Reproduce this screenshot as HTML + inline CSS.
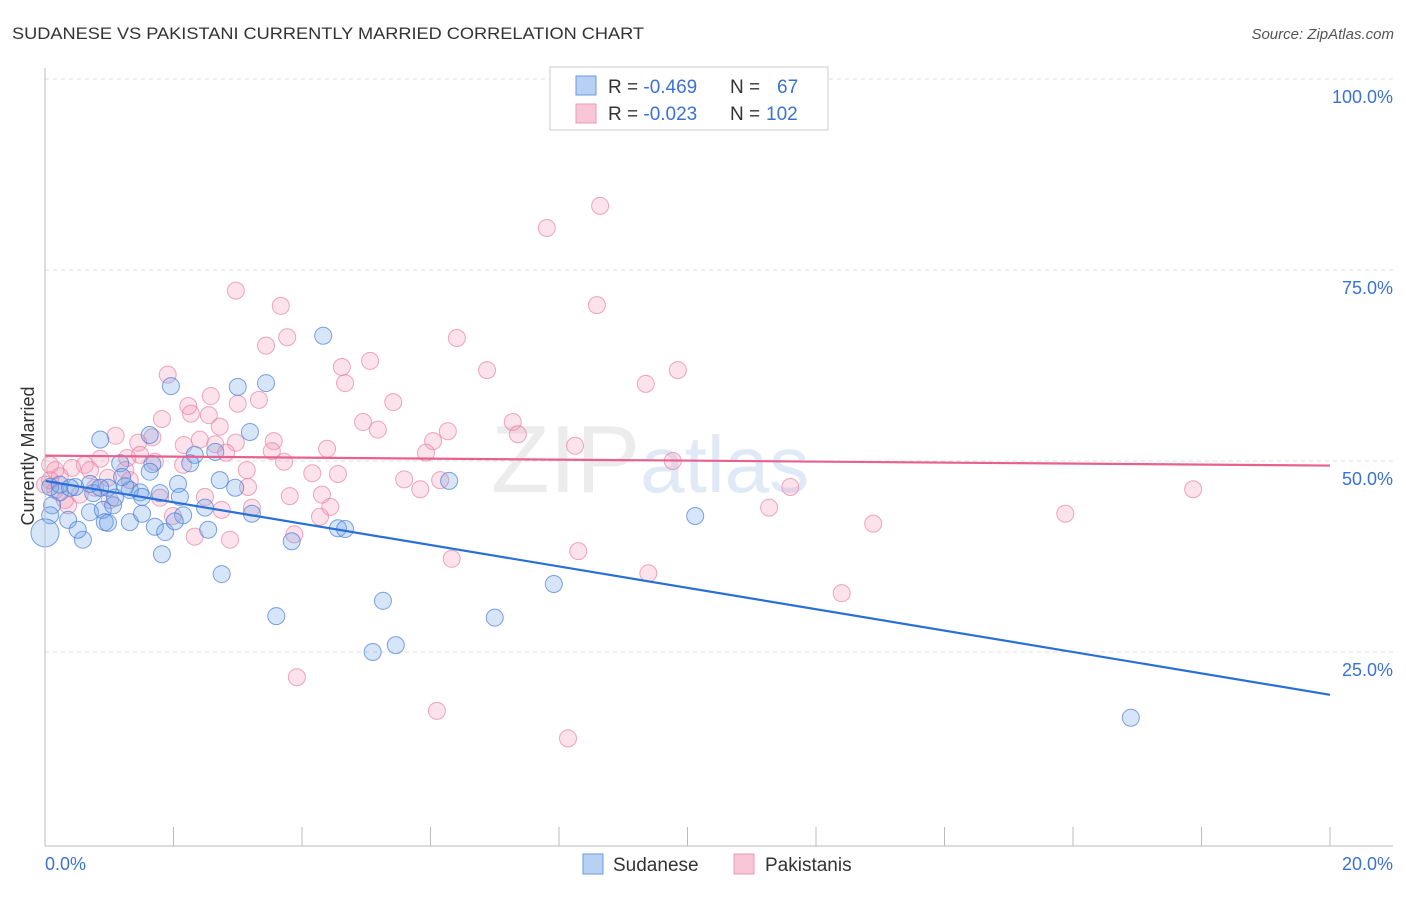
<!DOCTYPE html>
<html><head><meta charset="utf-8"><style>
body{margin:0;background:#fff;font-family:"Liberation Sans",sans-serif}
svg text{font-family:"Liberation Sans",sans-serif}
</style></head><body>
<svg id="c" width="1406" height="892">
<text x="12" y="39" font-size="17" fill="#333" textLength="632" lengthAdjust="spacingAndGlyphs">SUDANESE VS PAKISTANI CURRENTLY MARRIED CORRELATION CHART</text>
<text x="1394" y="39" font-size="15" fill="#555" text-anchor="end" font-style="italic">Source: ZipAtlas.com</text>
<text x="650" y="492" font-size="96" fill="#ececec" text-anchor="middle" font-family="Liberation Serif">ZIP<tspan fill="#e0eaf7" font-family="Liberation Sans" font-size="80">atlas</tspan></text>
<text x="34" y="456" font-size="18" fill="#333" text-anchor="middle" transform="rotate(-90 34 456)">Currently Married</text>
<g id="grid"></g><g id="pts"></g><g id="lines"></g>
<line x1="45" y1="68" x2="45" y2="846" stroke="#bbb"/>
<line x1="45" y1="846" x2="1393" y2="846" stroke="#bbb"/>
<text x="45" y="870" font-size="18" fill="#3a72d4">0.0%</text>
<text x="1393" y="870" font-size="18" fill="#3a72d4" text-anchor="end">20.0%</text>
<g>
<rect x="550" y="67" width="278" height="63" fill="#fff" stroke="#ccc"/>
<rect x="576" y="76" width="20" height="19" fill="#b8d0f2" stroke="#6a9ae0"/>
<rect x="576" y="104" width="20" height="19" fill="#f8c6d6" stroke="#ea9ab6"/>
<text x="608" y="93" font-size="19" fill="#333">R = <tspan fill="#3a72d4">-0.469</tspan><tspan x="730">N = </tspan><tspan x="777" fill="#3a72d4">67</tspan></text>
<text x="608" y="120" font-size="19" fill="#333">R = <tspan fill="#3a72d4">-0.023</tspan><tspan x="730">N = </tspan><tspan x="766" fill="#3a72d4">102</tspan></text>
</g>
<g><rect x="583" y="854" width="20" height="20" fill="#b8d0f2" stroke="#6a9ae0"/><text x="613" y="871" font-size="19" fill="#333">Sudanese</text></g>
<g><rect x="734" y="854" width="20" height="20" fill="#f8c6d6" stroke="#ea9ab6"/><text x="765" y="871" font-size="19" fill="#333">Pakistanis</text></g>
</svg>
<script>
const yTicks=[100,75,50,25];
const yTickLabels=["100.0%","75.0%","50.0%","25.0%"];
const xTicks=[0,2,4,6,8,10,12,14,16,18,20];
const sudX=[0.86,1.63,1.96,3.00,3.44,4.33,3.19,2.33,2.65,1.17,1.67,2.07,2.72,2.96,2.10,2.49,2.15,1.79,1.48,1.32,1.20,0.98,0.75,0.47,0.23,0.08,0.11,0.08,0.36,0.70,0.90,1.06,0.93,1.32,1.51,1.71,1.87,2.02,2.54,3.22,3.84,4.56,4.67,6.29,0.59,0.51,0.98,1.82,2.75,3.60,5.26,5.10,5.46,7.00,7.92,10.12,16.90,0.0,0.23,0.39,0.70,1.09,1.63,2.26,1.25,0.86,1.51];
const sudY=[52.8,53.4,59.8,59.7,60.2,66.4,53.8,50.8,51.2,49.7,49.6,47.0,47.5,46.5,45.3,43.9,42.9,45.8,45.9,46.2,47.9,46.5,45.8,46.6,45.9,46.6,44.2,42.9,42.3,43.3,43.6,44.2,42.0,42.0,43.1,41.4,40.7,42.1,41.0,43.1,39.5,41.2,41.1,47.4,39.7,41.0,41.9,37.8,35.2,29.7,31.7,25.0,25.9,29.5,33.9,42.8,16.4,40.6,46.9,46.5,47.0,45.2,48.6,49.7,46.7,46.5,45.3];
const pakX=[8.64,7.81,8.59,2.97,3.67,3.77,3.44,6.41,5.06,4.62,6.88,9.85,9.35,4.67,1.91,2.58,3.00,2.23,5.42,1.82,2.55,2.27,1.67,2.72,3.33,4.95,5.18,7.28,7.36,6.27,6.04,3.56,2.97,2.65,2.16,2.41,1.45,1.10,1.48,1.28,1.71,2.15,2.82,3.53,4.39,3.72,5.93,8.25,9.77,3.14,4.16,4.56,5.59,5.84,6.15,11.60,17.87,3.81,4.31,3.16,2.49,1.79,0.86,0.62,0.42,0.70,0.23,0.08,0.16,0.31,0.54,0.98,1.25,1.32,1.01,0.36,3.22,4.44,2.75,1.99,4.28,11.27,15.88,12.89,2.33,2.88,3.88,8.30,6.33,9.39,12.40,3.92,6.10,8.14,0.08,0.0,0.16,0.78];
const pakY=[83.4,80.5,70.4,72.3,70.3,66.2,65.1,66.1,63.1,62.3,61.9,61.9,60.1,60.2,61.3,58.5,57.5,57.2,57.7,55.5,56.0,56.2,53.1,54.5,58.0,55.1,54.1,55.1,53.5,53.9,52.6,52.6,52.4,52.2,52.1,52.8,52.4,53.3,50.8,50.4,49.9,49.5,51.1,51.3,51.6,49.9,51.1,52.0,50.0,48.8,48.4,48.3,47.6,46.3,47.5,46.6,46.3,45.4,45.6,46.6,45.3,45.2,50.3,49.5,49.1,48.8,48.0,47.5,46.2,44.9,45.6,47.8,48.8,47.5,44.9,44.2,43.9,44.0,43.6,42.8,42.7,43.9,43.1,41.8,40.1,39.7,40.4,38.2,37.2,35.3,32.7,21.7,17.3,13.7,49.5,46.9,48.8,46.5];
const sudTrend=[47.4,19.4];
const pakTrend=[50.7,49.4];
const NS='http://www.w3.org/2000/svg';
const X=v=>45+v/20*1285, Y=v=>843-v*7.64;
function mk(t,a,p){const e=document.createElementNS(NS,t);for(const k in a)e.setAttribute(k,a[k]);p.appendChild(e);return e;}
const g=document.getElementById('grid');
yTicks.forEach((v,i)=>{
 const l=mk('line',{x1:45,x2:1393,y1:Y(v),y2:Y(v),stroke:'#ddd','stroke-dasharray':'4 4'},g);
 
 
 const t=mk('text',{x:1393,y:Y(v)+24,'font-size':18,fill:'#3a72d4','text-anchor':'end'},g);
 t.textContent=yTickLabels[i];
 
 
});
xTicks.forEach(v=>{
 const l=mk('line',{x1:X(v),x2:X(v),y1:827,y2:846,stroke:'#bbb'},g);
 
 
});
const p=document.getElementById('pts');
pakX.forEach((x,i)=>{
 const c=mk('circle',{cx:X(x),cy:Y(pakY[i]),r:8.5,fill:'rgba(242,150,182,0.28)',stroke:'rgba(232,130,165,0.7)','stroke-width':1},p);
 
 
});
sudX.forEach((x,i)=>{
 const c=mk('circle',{cx:X(x),cy:Y(sudY[i]),r:(x===0?14:8.5),fill:'rgba(110,160,232,0.28)',stroke:'rgba(70,125,215,0.7)','stroke-width':1},p);
 
 
});
const L=document.getElementById('lines');
const b=mk('line',{x1:X(0),y1:Y(sudTrend[0]),x2:X(20),y2:Y(sudTrend[1]),stroke:'#2a6fd6','stroke-width':2.2},L);


const q=mk('line',{x1:X(0),y1:Y(pakTrend[0]),x2:X(20),y2:Y(pakTrend[1]),stroke:'#e8608e','stroke-width':2.2},L);


</script>
</body></html>
